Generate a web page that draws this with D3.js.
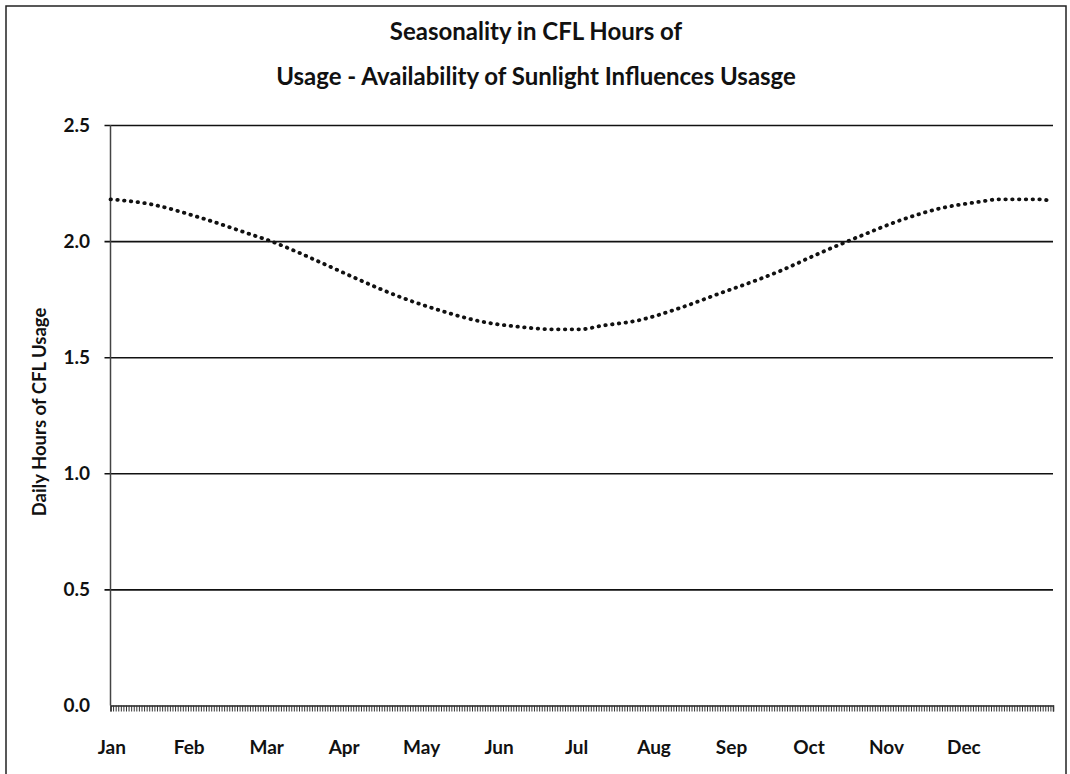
<!DOCTYPE html>
<html>
<head>
<meta charset="utf-8">
<script src="https://cdn.jsdelivr.net/npm/d3@7"></script>
<style>
  html, body { margin: 0; padding: 0; background: #fff; }
  svg { display: block; }
  text { font-family: Lato, "Open Sans", sans-serif; fill: #111; }
</style>
</head>
<body>
<svg id="chart" width="1070" height="774"></svg>
<script>
// ---- data ----
const titleLines = ["Seasonality in CFL Hours of", "Usage - Availability of Sunlight Influences Usasge"];
const yAxisTitle = "Daily Hours of CFL Usage";
const dayCount = 365;
const monthLabels = ["Jan","Feb","Mar","Apr","May","Jun","Jul","Aug","Sep","Oct","Nov","Dec"];
const monthLabelDays = [0, 30, 60, 90, 120, 150, 180, 210, 240, 270, 300, 330];
const yTicks = [0, 0.5, 1.0, 1.5, 2.0, 2.5];
const sampleDays = [0, 15, 35, 54, 62, 73, 81, 89, 97, 112, 128, 143, 159, 172, 182, 190, 205, 220, 236, 251, 259, 275, 290, 306, 321, 337, 344, 358, 364];
const usageHours = [2.18, 2.16, 2.10, 2.03, 2.00, 1.95, 1.91, 1.87, 1.83, 1.76, 1.70, 1.655, 1.63, 1.62, 1.62, 1.635, 1.66, 1.71, 1.775, 1.835, 1.87, 1.95, 2.02, 2.09, 2.14, 2.17, 2.18, 2.18, 2.175];

// ---- layout ----
const svg = d3.select("#chart");
const plot = { left: 110.5, right: 1053, top: 125, bottom: 705.5 };

svg.append("rect")
  .attr("x", 6).attr("y", 6).attr("width", 1060).attr("height", 790)
  .attr("fill", "none").attr("stroke", "#222").attr("stroke-width", 1.5);

const x = d3.scaleLinear().domain([0, dayCount]).range([plot.left, plot.right]);
const y = d3.scaleLinear().domain([0, 2.5]).range([plot.bottom, plot.top]);

// gridlines
svg.append("g")
  .attr("transform", `translate(${plot.left},0)`)
  .call(d3.axisLeft(y).tickValues(yTicks.filter(d => d > 0)).tickSize(-(plot.right - plot.left)).tickFormat(""))
  .call(g => g.select(".domain").remove())
  .call(g => g.selectAll(".tick line").attr("stroke", "#111").attr("stroke-width", 1.6).attr("x1", -6));

// y axis line + labels
svg.append("line")
  .attr("x1", plot.left).attr("x2", plot.left)
  .attr("y1", plot.top).attr("y2", plot.bottom)
  .attr("stroke", "#444").attr("stroke-width", 1.5);

svg.append("g")
  .selectAll("text")
  .data(yTicks)
  .join("text")
  .attr("x", 90)
  .attr("y", d => y(d))
  .attr("dy", "0.35em")
  .attr("text-anchor", "end")
  .attr("font-size", 19)
  .attr("font-weight", 700)
  .text(d => d3.format(".1f")(d));

// dense category ticks along the x axis
svg.append("g")
  .attr("transform", `translate(0,${plot.bottom})`)
  .call(d3.axisBottom(x).tickValues(d3.range(0, dayCount + 1)).tickSize(6).tickFormat(""))
  .call(g => g.select(".domain").attr("stroke", "#222").attr("stroke-width", 1.5))
  .call(g => g.selectAll(".tick line").attr("stroke", "#333").attr("stroke-width", 1));

// month labels
svg.append("g")
  .selectAll("text")
  .data(monthLabels)
  .join("text")
  .attr("x", (d, i) => x(monthLabelDays[i] + 0.5))
  .attr("y", 747)
  .attr("dy", "0.35em")
  .attr("text-anchor", "middle")
  .attr("font-size", 19)
  .attr("font-weight", 700)
  .text(d => d);

// y axis title
svg.append("text")
  .attr("transform", "translate(40,412) rotate(-90)")
  .attr("text-anchor", "middle")
  .attr("dy", "0.35em")
  .attr("font-size", 18.5)
  .attr("font-weight", 700)
  .text(yAxisTitle);

// title
svg.append("g")
  .selectAll("text")
  .data(titleLines)
  .join("text")
  .attr("x", 536)
  .attr("y", (d, i) => 32 + i * 45)
  .attr("dy", "0.35em")
  .attr("text-anchor", "middle")
  .attr("font-size", 24)
  .attr("font-weight", 700)
  .text(d => d);

// dotted series
const line = d3.line()
  .x((d, i) => x(sampleDays[i]))
  .y(d => y(d))
  .curve(d3.curveMonotoneX);

svg.append("path")
  .datum(usageHours)
  .attr("d", line)
  .attr("fill", "none")
  .attr("stroke", "#111")
  .attr("stroke-width", 3.8)
  .attr("stroke-linecap", "round")
  .attr("stroke-dasharray", "0.5 6.3");
</script>
</body>
</html>
